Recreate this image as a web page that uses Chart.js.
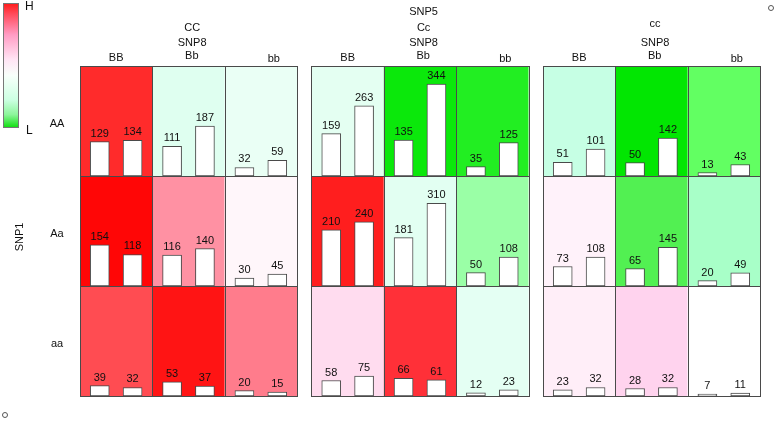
<!DOCTYPE html>
<html><head><meta charset="utf-8">
<script src="https://cdn.jsdelivr.net/npm/chart.js@4.4.1/dist/chart.umd.min.js"></script>
<style>html,body{margin:0;padding:0;background:#fff}canvas{display:block}</style>
</head><body>
<canvas id="c" width="778" height="422"></canvas>
<script>
// ---------- data ----------
const snp5Levels = ['CC', 'Cc', 'cc'];
const snp8Levels = ['BB', 'Bb', 'bb'];
const snp1Levels = ['AA', 'Aa', 'aa'];
// bar values per SNP1 row; order: CC(BB,Bb,bb) | Cc(BB,Bb,bb) | cc(BB,Bb,bb)
const firstAA  = [129, 111, 32,  159, 135, 35,  51, 50, 13];
const secondAA = [134, 187, 59,  263, 344, 125, 101, 142, 43];
const firstAa  = [154, 116, 30,  210, 181, 50,  73, 65, 20];
const secondAa = [118, 140, 45,  240, 310, 108, 108, 145, 49];
const firstaa  = [39, 53, 20,    58, 66, 12,    23, 28, 7];
const secondaa = [32, 37, 15,    75, 61, 23,    32, 32, 11];

// ---------- styles ----------
const shadeAA = ['#FF2B2B', '#DFFFF0', '#EAFFF5',  '#E4FFF2', '#0BE80B', '#22EE22',  '#C6FFE4', '#02E602', '#62FF62'];
const shadeAa = ['#FF0606', '#FF91A3', '#FFF6FA',  '#FF1E1E', '#E2FFF2', '#9AFFA6',  '#FFF2FA', '#52F052', '#A8FFC8'];
const shadeaa = ['#FF4C52', '#FF1414', '#FF7C8C',  '#FFDCEF', '#FF3038', '#E4FFF3',  '#FFEEF8', '#FFD3EE', '#FFFFFF'];
const FONT = '"Liberation Sans", Arial, sans-serif';
const TXT = '#111111';
const LINE = '#4a4a4a';
const PANEL_GAP = 0.2;           // gap between SNP5 panels in cell units
const barOffsets = [0.273, 0.727];
const Y_MAX = 412;

function cellLeft(i) { return Math.floor(i / 3) * (3 + PANEL_GAP) + (i % 3); }

const rows = [
  { key: 'aa', first: firstaa, second: secondaa, shade: shadeaa },
  { key: 'Aa', first: firstAa, second: secondAa, shade: shadeAa },
  { key: 'AA', first: firstAA, second: secondAA, shade: shadeAA }
];

const datasets = [];
rows.forEach(r => {
  [r.first, r.second].forEach((vals, k) => {
    datasets.push({
      label: r.key + '-' + (k + 1),
      data: vals.map((v, i) => ({ x: cellLeft(i) + barOffsets[k], y: v })),
      yAxisID: 'y' + r.key,
      backgroundColor: '#ffffff',
      borderColor: LINE,
      borderWidth: 1,
      borderSkipped: false,
      barThickness: 19,
      grouped: false
    });
  });
});

const scales = {
  x: { type: 'linear', min: 0, max: 9 + 2 * PANEL_GAP, offset: false, display: false }
};
rows.forEach(r => {
  scales['y' + r.key] = { type: 'linear', min: 0, max: Y_MAX, position: 'left', stack: 'snp1', stackWeight: 1, display: false };
});

const cellPlugin = {
  id: 'cells',
  beforeDatasetsDraw(chart) {
    const ctx = chart.ctx, xs = chart.scales.x;
    ctx.save();
    rows.forEach(r => {
      const ys = chart.scales['y' + r.key];
      const top = ys.getPixelForValue(Y_MAX), bot = ys.getPixelForValue(0);
      r.shade.forEach((c, i) => {
        const l = xs.getPixelForValue(cellLeft(i)), rr = xs.getPixelForValue(cellLeft(i) + 1);
        ctx.fillStyle = c;
        ctx.fillRect(l, top, rr - l, bot - top);
      });
    });
    // cell borders
    ctx.strokeStyle = LINE; ctx.lineWidth = 1;
    rows.forEach(r => {
      const ys = chart.scales['y' + r.key];
      const top = Math.round(ys.getPixelForValue(Y_MAX)) + 0.5, bot = Math.round(ys.getPixelForValue(0)) + 0.5;
      for (let i = 0; i < 9; i++) {
        const l = Math.round(xs.getPixelForValue(cellLeft(i))) + 0.5, rr = Math.round(xs.getPixelForValue(cellLeft(i) + 1)) + 0.5;
        ctx.strokeRect(l, top, rr - l, bot - top);
      }
    });
    ctx.restore();
  },
  afterDatasetsDraw(chart) {
    const ctx = chart.ctx;
    ctx.save();
    ctx.font = '11px ' + FONT; ctx.fillStyle = TXT; ctx.textAlign = 'center'; ctx.textBaseline = 'alphabetic';
    chart.data.datasets.forEach((ds, d) => {
      chart.getDatasetMeta(d).data.forEach((el, i) => {
        ctx.fillText(String(ds.data[i].y), el.x, el.y - 5);
      });
    });
    ctx.restore();
  },
  afterDraw(chart) {
    const ctx = chart.ctx, xs = chart.scales.x;
    ctx.save();
    ctx.font = '11px ' + FONT; ctx.fillStyle = TXT; ctx.textAlign = 'center'; ctx.textBaseline = 'alphabetic';
    const hdrOff = [0.5, 0.545, 0.68];
    const hdrBase = [61, 59, 62];
    snp5Levels.forEach((lv, p) => {
      for (let j = 0; j < 3; j++) {
        ctx.fillText(snp8Levels[j], xs.getPixelForValue(cellLeft(p * 3 + j) + hdrOff[j]), hdrBase[j]);
      }
      const cx = xs.getPixelForValue(cellLeft(p * 3 + 1) + 0.55);
      ctx.fillText('SNP8', cx, 46);
      ctx.fillText(lv, cx, p === 2 ? 27 : 30.5);
      if (p === 1) ctx.fillText('SNP5', cx, 15);
    });
    // SNP1 row labels
    rows.forEach(r => {
      const ys = chart.scales['y' + r.key];
      ctx.textBaseline = 'middle';
      ctx.fillText(r.key, 57, (ys.top + ys.bottom) / 2 + 3);
    });
    ctx.save();
    ctx.translate(20, 237); ctx.rotate(-Math.PI / 2);
    ctx.fillText('SNP1', 0, 0);
    ctx.restore();
    // colour key
    const g = ctx.createLinearGradient(0, 4, 0, 127);
    g.addColorStop(0, '#FF1E1E'); g.addColorStop(0.08, '#FF4A5A'); g.addColorStop(0.25, '#FF9CC4');
    g.addColorStop(0.45, '#FFE4F4'); g.addColorStop(0.58, '#F8FFFB'); g.addColorStop(0.78, '#CCFFE2');
    g.addColorStop(0.9, '#8CF59A'); g.addColorStop(1, '#14E014');
    ctx.fillStyle = g; ctx.fillRect(4, 4, 14, 123);
    ctx.strokeStyle = '#777'; ctx.strokeRect(3.5, 3.5, 15, 124);
    ctx.fillStyle = TXT; ctx.textAlign = 'left'; ctx.textBaseline = 'alphabetic';
    ctx.font = '12px ' + FONT;
    ctx.fillText('H', 25, 10);
    ctx.fillText('L', 26, 134);
    // corner markers
    ctx.strokeStyle = '#555';
    ctx.beginPath(); ctx.arc(771, 8, 2.5, 0, Math.PI * 2); ctx.stroke();
    ctx.beginPath(); ctx.arc(5, 415, 2.5, 0, Math.PI * 2); ctx.stroke();
    ctx.restore();
  }
};

new Chart(document.getElementById('c'), {
  type: 'bar',
  data: { datasets },
  options: {
    responsive: false,
    animation: false,
    layout: { padding: { left: 80, right: 18, top: 66, bottom: 26 } },
    scales,
    plugins: { legend: { display: false }, tooltip: { enabled: false } }
  },
  plugins: [cellPlugin]
});
</script>
</body></html>
